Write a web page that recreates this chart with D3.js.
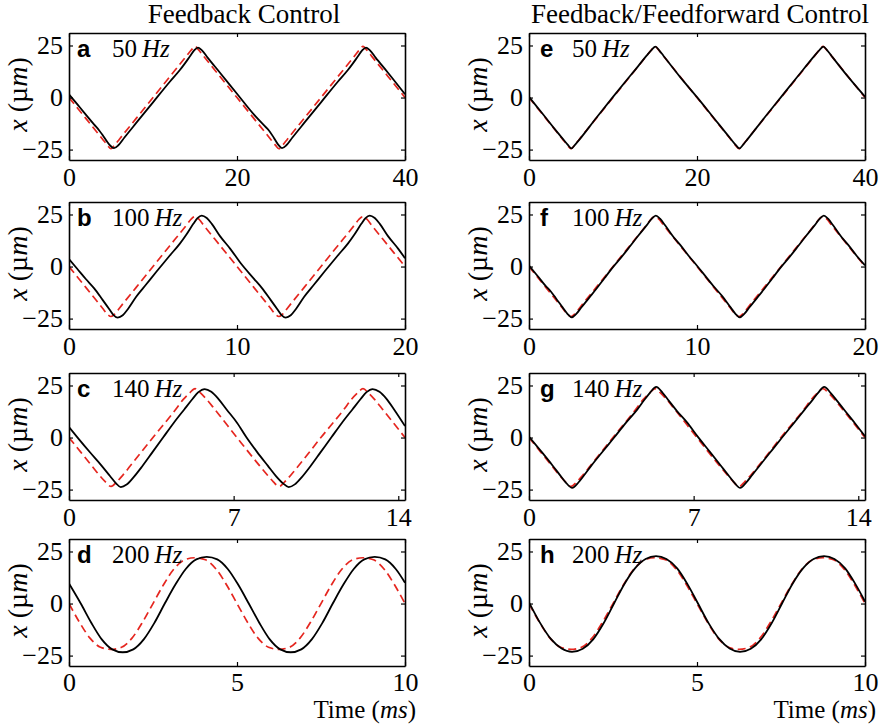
<!DOCTYPE html>
<html>
<head>
<meta charset="utf-8">
<script src="https://cdn.jsdelivr.net/npm/d3@7/dist/d3.min.js"></script>
<style>
  html, body { margin: 0; padding: 0; background: #fff; }
  svg { display: block; }
  .tick line { stroke: #000; stroke-width: 1.2; }
  .domain { stroke: #000; stroke-width: 1.6; }
</style>
</head>
<body>
<svg id="chart" width="887" height="724"></svg>
<script>
// ---- data --------------------------------------------------------------
const columnTitles = ["Feedback Control", "Feedback/Feedforward Control"];
const panelLetters = [["a", "b", "c", "d"], ["e", "f", "g", "h"]];
const frequencies = ["50", "100", "140", "200"];
const timeWindows = [40, 20, 14.2857, 10];           // ms, two periods each
const timeTicks = [[0, 20, 40], [0, 10, 20], [0, 7, 14], [0, 5, 10]];
const positionTicks = [-25, 0, 25];
const positionRange = [-30, 31];

// desired trajectory (red dashed), [time ms, x µm]
const ref50 = [[0,0],[1,-5],[2,-10],[3,-15],[4,-20],[4.6,-23],[5,-24.6],[5.4,-23],[6,-20],[8,-10],[10,0],[12,10],[14,20],[14.6,23],[15,24.6],[15.4,23],[16,20],[18,10],[20,0],[22,-10],[24,-20],[24.6,-23],[25,-24.6],[25.4,-23],[26,-20],[28,-10],[30,0],[32,10],[34,20],[34.6,23],[35,24.6],[35.4,23],[36,20],[38,10],[40,0]];
const ref100 = [[0,0],[0.5,-5],[1,-10],[1.5,-15],[2,-20],[2.25,-22.6],[2.5,-24],[2.75,-22.6],[3,-20],[4,-10],[5,0],[6,10],[7,20],[7.25,22.6],[7.5,24],[7.75,22.6],[8,20],[9,10],[10,0],[11,-10],[12,-20],[12.25,-22.6],[12.5,-24],[12.75,-22.6],[13,-20],[14,-10],[15,0],[16,10],[17,20],[17.25,22.6],[17.5,24],[17.75,22.6],[18,20],[19,10],[20,0]];
const ref140 = [[0,0],[0.5,-7],[1,-14],[1.3,-18.2],[1.55,-21.3],[1.79,-23.5],[2.03,-21.3],[2.28,-18.2],[2.6,-13.7],[3.57,0],[4.55,13.7],[4.85,18.2],[5.12,21.3],[5.36,23.5],[5.6,21.3],[5.86,18.2],[6.2,13.5],[7.14,0],[8.1,-13.5],[8.45,-18.2],[8.69,-21.3],[8.93,-23.5],[9.17,-21.3],[9.42,-18.2],[9.75,-13.7],[10.71,0],[11.7,13.7],[12,18.2],[12.26,21.3],[12.5,23.5],[12.74,21.3],[13,18.2],[13.35,13.3],[14.2857,0]];
const ref200 = [[0,0],[0.3125,-9],[0.625,-16.6],[0.9375,-21],[1.25,-22],[1.5625,-21],[1.875,-16.6],[2.1875,-9],[2.5,0],[2.8125,9],[3.125,16.6],[3.4375,21],[3.75,22],[4.0625,21],[4.375,16.6],[4.6875,9],[5,0],[5.3125,-9],[5.625,-16.6],[5.9375,-21],[6.25,-22],[6.5625,-21],[6.875,-16.6],[7.1875,-9],[7.5,0],[7.8125,9],[8.125,16.6],[8.4375,21],[8.75,22],[9.0625,21],[9.375,16.6],[9.6875,9],[10,0]];

// measured stage position, feedback only (black)
const fbOut50 = [[0,1.6],[1,-3.3],[2,-8.2],[3,-13],[3.6,-15.8],[4.2,-19.2],[4.8,-22.6],[5.35,-24.3],[5.9,-22.8],[6.6,-19.2],[8,-12.2],[10,-2.3],[12,7.6],[13.2,13.2],[13.8,16.4],[14.4,19.8],[14.9,22.6],[15.35,24],[15.8,22.8],[16.5,19.2],[18,11.8],[20,1.8],[22,-8.1],[23.2,-13.3],[23.8,-15.8],[24.4,-19.4],[24.9,-22.6],[25.35,-24.3],[25.9,-22.8],[26.6,-19.2],[28,-12.2],[30,-2.3],[32,7.6],[33.2,13.2],[33.8,16.4],[34.4,19.8],[34.9,22.6],[35.35,24],[35.8,22.8],[36.5,19.2],[38,11.8],[40,1.6]];
const fbOut100 = [[0,3.6],[0.5,-1.2],[1,-6],[1.5,-10.5],[2,-16],[2.4,-20.5],[2.65,-23.3],[2.9,-24.5],[3.2,-23.4],[3.5,-20.5],[4,-14.5],[4.6,-8.5],[5.2,-2.5],[6,5.3],[6.6,11],[7,15.5],[7.4,20.5],[7.65,23.3],[7.9,24.5],[8.2,23.3],[8.5,20.5],[9,14.5],[9.6,8.5],[10.2,1.8],[11,-5.8],[11.5,-10.5],[12,-16],[12.4,-20.5],[12.65,-23.3],[12.9,-24.5],[13.2,-23.4],[13.5,-20.5],[14,-14.5],[14.6,-8.5],[15.2,-2.5],[16,5.3],[16.6,11],[17,15.5],[17.4,20.5],[17.65,23.3],[17.9,24.5],[18.2,23.3],[18.5,20.5],[19,14.5],[19.6,8.5],[20,4]];
const fbOut140 = [[0,5],[0.4,-0.5],[0.9,-7.2],[1.4,-13.7],[1.75,-18.6],[2,-22],[2.2,-23.8],[2.45,-22.6],[2.75,-19],[3.1,-14],[3.55,-7],[4,0],[4.45,7],[4.9,13.5],[5.25,18.5],[5.5,21.8],[5.77,23.3],[6.05,22],[6.35,18.6],[6.7,13.5],[7.15,7],[7.55,0],[8,-7],[8.45,-13.5],[8.8,-18.5],[9.1,-22],[9.34,-23.8],[9.6,-22.5],[9.9,-19],[10.25,-14],[10.7,-7],[11.15,0],[11.6,7],[12.05,13.5],[12.4,18.5],[12.65,21.8],[12.91,23.3],[13.2,22],[13.5,18.6],[13.85,13],[14.2857,5.5]];
const fbOut200 = [[0,9.6],[0.35,0],[0.6625,-9.2],[0.975,-17.2],[1.2875,-22],[1.6,-23.4],[1.9125,-22],[2.225,-17.2],[2.5375,-9.4],[2.85,0],[3.1625,9],[3.475,16.6],[3.7875,21.2],[4.1,22.4],[4.4125,21.2],[4.725,16.6],[5.0375,9],[5.35,0],[5.6625,-9.2],[5.975,-17.2],[6.2875,-22],[6.6,-23.4],[6.9125,-22],[7.225,-17.2],[7.5375,-9.4],[7.85,0],[8.1625,9],[8.475,16.6],[8.7875,21.2],[9.1,22.4],[9.4125,21.2],[9.725,16.6],[10,10]];

// measured stage position, feedback + feedforward (black)
const ffOut50 = [[0,0.3],[1,-4.7],[2,-9.7],[3,-14.8],[4,-19.7],[4.6,-22.6],[5.05,-24.4],[5.5,-22.6],[6,-20.2],[8,-9.8],[10,0.3],[12,10.2],[13,15.1],[14,20.1],[14.6,22.9],[15.05,24.5],[15.5,22.7],[16,20.1],[18,9.8],[20,0.2],[22,-9.8],[24,-19.8],[24.6,-22.7],[25.05,-24.4],[25.5,-22.6],[26,-20.1],[28,-9.8],[30,0.2],[32,10.2],[34,20.1],[34.6,22.9],[35.05,24.5],[35.5,22.7],[36,20.1],[38,9.9],[40,0.4]];
const ffOut100 = [[0,0.5],[0.5,-4.4],[1,-9.4],[1.3,-12],[1.6,-15.2],[2,-19.6],[2.3,-22.8],[2.55,-24.4],[2.8,-22.9],[3.1,-19.8],[3.6,-14.8],[4,-10.8],[4.5,-5.5],[5,-0.3],[5.5,4.5],[6,9.6],[6.5,14.8],[7,19.8],[7.3,22.9],[7.55,24.5],[7.8,23],[8.1,19.8],[8.6,14.2],[9,10.4],[9.5,5.2],[10,0.4],[10.5,-4.6],[11,-9.6],[11.5,-14.2],[12,-19.6],[12.3,-22.8],[12.55,-24.4],[12.8,-22.9],[13.1,-19.8],[13.6,-14.8],[14,-10.8],[14.5,-5.5],[15,-0.3],[15.5,4.5],[16,9.6],[16.5,14.8],[17,19.8],[17.3,22.9],[17.55,24.5],[17.8,23],[18.1,19.8],[18.6,14.2],[19,10.4],[19.5,5.2],[20,0.6]];
const ffOut140 = [[0,0.4],[0.5,-6.4],[1,-13.4],[1.3,-17.8],[1.55,-21.4],[1.84,-24.2],[2.1,-21.6],[2.35,-18],[2.65,-13.5],[3.1,-7.2],[3.62,0],[4.1,6.8],[4.6,13.4],[4.9,18],[5.15,21.6],[5.41,24.3],[5.68,21.5],[5.95,17.6],[6.3,12.6],[6.7,7.5],[7.19,0.2],[7.7,-7],[8.15,-13.4],[8.47,-18],[8.72,-21.5],[8.98,-24.2],[9.24,-21.5],[9.5,-17.8],[9.82,-13.3],[10.25,-7.2],[10.76,0],[11.25,6.8],[11.72,13.4],[12.05,18],[12.3,21.6],[12.55,24.3],[12.82,21.5],[13.1,17.6],[13.45,12.6],[13.85,7],[14.2857,0.6]];
const ffOut200 = [[0,0.6],[0.33,-9.3],[0.65,-17],[0.97,-21.6],[1.28,-23.2],[1.6,-21.7],[1.91,-17.2],[2.22,-9.5],[2.53,0],[2.84,9.4],[3.16,17],[3.47,21.4],[3.78,22.8],[4.09,21.4],[4.41,16.9],[4.72,9.2],[5.03,0],[5.34,-9.3],[5.66,-17],[5.97,-21.6],[6.28,-23.2],[6.6,-21.7],[6.91,-17.2],[7.22,-9.5],[7.53,0],[7.84,9.4],[8.16,17],[8.47,21.4],[8.78,22.8],[9.09,21.4],[9.41,16.9],[9.72,9.2],[10,1]];

const references = [ref50, ref100, ref140, ref200];
const outputs = [[fbOut50, fbOut100, fbOut140, fbOut200], [ffOut50, ffOut100, ffOut140, ffOut200]];

// ---- layout ------------------------------------------------------------
const SERIF = "'Liberation Serif', 'Times New Roman', serif";
const SANS = "'Liberation Sans', Arial, sans-serif";
const colLeft = [69, 529];
const plotWidth = 336;
const rowTop = [33, 202, 373, 539];
const plotHeight = 127;
const titleCenter = [244, 700];

const svg = d3.select("#chart");
const defs = svg.append("defs");

columnTitles.forEach((t, c) => {
  svg.append("text")
    .attr("font-family", SERIF)
    .attr("x", titleCenter[c]).attr("y", 23)
    .attr("text-anchor", "middle")
    .attr("font-size", 27)
    .text(t);
});

function styleAxis(sel) {
  sel.attr("font-family", SERIF).attr("font-size", 26);
  sel.selectAll("text").attr("fill", "#000");
}

for (let c = 0; c < 2; c++) {
  for (let r = 0; r < 4; r++) {
    const x0 = colLeft[c], y0 = rowTop[r];
    const x = d3.scaleLinear().domain([0, timeWindows[r]]).range([0, plotWidth]);
    const y = d3.scaleLinear().domain(positionRange).range([plotHeight, 0]);
    const g = svg.append("g").attr("transform", `translate(${x0},${y0})`);

    const clipId = `clip-${c}-${r}`;
    defs.append("clipPath").attr("id", clipId)
      .append("rect").attr("width", plotWidth).attr("height", plotHeight);

    const line = d3.line()
      .x(d => x(d[0])).y(d => y(d[1]))
      .curve(d3.curveMonotoneX);

    const plot = g.append("g").attr("clip-path", `url(#${clipId})`);
    plot.append("path")
      .datum(references[r])
      .attr("d", line)
      .attr("fill", "none")
      .attr("stroke", "#e5261f")
      .attr("stroke-width", 1.7)
      .attr("stroke-dasharray", "8,4.5");
    plot.append("path")
      .datum(outputs[c][r])
      .attr("d", line)
      .attr("fill", "none")
      .attr("stroke", "#000")
      .attr("stroke-width", 1.8);

    // boxed axes with inward ticks
    g.append("g").attr("transform", `translate(0,${plotHeight})`)
      .call(d3.axisBottom(x).tickValues(timeTicks[r]).tickFormat(d3.format("d"))
        .tickSizeInner(-4).tickSizeOuter(0).tickPadding(r === 3 ? 7 : 8))
      .call(styleAxis);
    g.append("g")
      .call(d3.axisTop(x).tickValues(timeTicks[r]).tickFormat("")
        .tickSizeInner(-4).tickSizeOuter(0));
    g.append("g")
      .call(d3.axisLeft(y).tickValues(positionTicks).tickFormat(d3.format("d"))
        .tickSizeInner(-4).tickSizeOuter(0).tickPadding(6))
      .call(styleAxis);
    g.append("g").attr("transform", `translate(${plotWidth},0)`)
      .call(d3.axisRight(y).tickValues(positionTicks).tickFormat("")
        .tickSizeInner(-4).tickSizeOuter(0));

    // panel letter and drive frequency
    g.append("text")
      .attr("x", c === 0 ? 8 : 11).attr("y", 24)
      .attr("font-family", SANS)
      .attr("font-weight", "bold")
      .attr("font-size", 24)
      .text(panelLetters[c][r]);
    const f = g.append("text")
      .attr("font-family", SERIF)
      .attr("x", 43).attr("y", 24)
      .attr("font-size", 25);
    f.append("tspan").text(frequencies[r] + "\u2009");
    f.append("tspan").attr("font-style", "italic").text("Hz");

    // y label
    const yl = svg.append("text")
      .attr("font-family", SERIF)
      .attr("transform", `translate(${x0 - 42},${y0 + plotHeight / 2 - 2}) rotate(-90)`)
      .attr("text-anchor", "middle")
      .attr("font-size", 28);
    yl.append("tspan").attr("font-style", "italic").text("x");
    yl.append("tspan").text(" (\u00b5");
    yl.append("tspan").attr("font-style", "italic").text("m");
    yl.append("tspan").text(")");

    if (r === 3) {
      const tl = svg.append("text")
        .attr("font-family", SERIF)
        .attr("x", x0 + plotWidth + 11).attr("y", 718)
        .attr("text-anchor", "end")
        .attr("font-size", 25);
      tl.append("tspan").text("Time (");
      tl.append("tspan").attr("font-style", "italic").text("ms");
      tl.append("tspan").text(")");
    }
  }
}
</script>
</body>
</html>
